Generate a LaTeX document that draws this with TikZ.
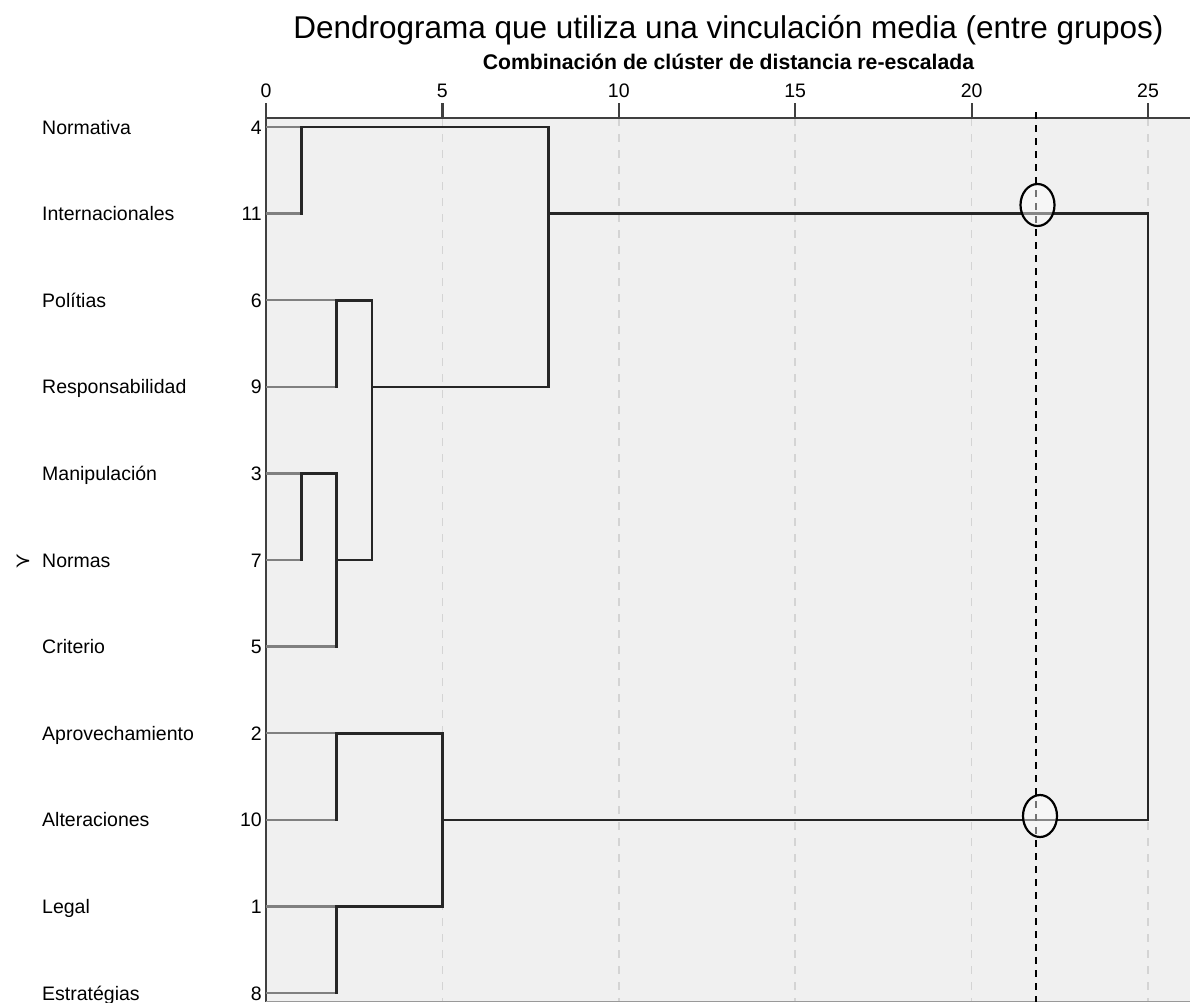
\documentclass[tikz,border=0pt]{standalone}
\usepackage{fontspec}
\setmainfont{Liberation Sans}
\newfontfamily\symbfont{DejaVu Sans}
\usetikzlibrary{positioning,shapes.geometric}

\tikzset{
  rowlab/.style={anchor=base west, inner sep=0pt, font=\fontsize{19.5}{22}\selectfont},
  rownum/.style={anchor=base east, inner sep=0pt, font=\fontsize{19.5}{22}\selectfont},
  ticklab/.style={anchor=base, inner sep=0pt, font=\fontsize{19.5}{22}\selectfont},
  leafline/.style={draw=black!50, line width=2.5pt},
  joinline/.style={draw=black!85, line width=2.6pt, line cap=rect},
  axisline/.style={draw=black!75, line width=2.2pt},
  gridline/.style={draw=black!17, line width=1.6pt, dash pattern=on 8pt off 8pt},
  cutline/.style={draw=black, line width=2.2pt, dash pattern=on 7pt off 6pt},
  ring/.style={draw=black, line width=2.2pt, fill=white, fill opacity=0.45, ellipse,
    minimum width=34pt, minimum height=42pt, inner sep=0pt}
}

\begin{document}
\begin{tikzpicture}[x=1pt, y=-1pt]
  \useasboundingbox (0,0) rectangle (1190,1002);
  \fill[black!6] (266,118) rectangle (1190,1002);

  % grid and axis
  \foreach \v in {5,10,...,25}
    \draw[gridline] ({266+35.28*\v},118) -- ({266+35.28*\v},1002);
  \draw[axisline] (266,118) -- (1190,118);
  \draw[axisline] (266,103) -- (266,1002);
  \draw[draw=black!40, line width=1pt] (266,1001.5) -- (1190,1001.5);
  \foreach \v in {0,5,...,25} {
    \draw[axisline] ({266+35.28*\v},103) -- ({266+35.28*\v},118);
    \node[ticklab] (t\v) at ({266+35.28*\v},97) {\v};
  }

  \node[anchor=base, inner sep=0pt, font=\fontsize{31.5}{35}\selectfont] (title) at (728.5,38)
    {Dendrograma que utiliza una vinculación media (entre grupos)};
  \node[anchor=base, inner sep=0pt, font=\bfseries\fontsize{21.2}{25}\selectfont] (subtitle) at (728.5,69)
    {Combinación de clúster de distancia re-escalada};

  % leaves
  \foreach \n/\lab/\y in {4/Normativa/127, 11/Internacionales/213.6, 6/Polítias/300.2,
      9/Responsabilidad/386.8, 3/Manipulación/473.4, 7/Normas/560, 5/Criterio/646.6,
      2/Aprovechamiento/733.2, 10/Alteraciones/819.8, 1/Legal/906.4, 8/Estratégias/993} {
    \node[rowlab] (lab\n) at (42,\y+7) {\lab};
    \node[rownum] (num\n) at (262,\y+7) {\n};
    \coordinate (l\n) at (266,\y);
  }
  \node[inner sep=0pt, font=\symbfont\fontsize{20}{20}\selectfont] (ymark) at (23,561) {≻};

  % merges
  \coordinate (c411) at (301.3,127);
  \coordinate (c69) at (336.6,300.2);
  \coordinate (c37) at (301.3,473.4);
  \coordinate (c375) at (336.6,560);
  \coordinate (c69375) at (371.8,386.8);
  \coordinate (cA) at (548.2,213.6);
  \coordinate (c210) at (336.6,733.2);
  \coordinate (c18) at (336.6,906.4);
  \coordinate (cB) at (442.4,819.8);
  \coordinate (root) at (1148,213.6);

  \foreach \a/\m in {l4/c411, l11/c411, l6/c69, l9/c69, l3/c37, l7/c37, l5/c375,
      l2/c210, l10/c210, l1/c18, l8/c18}
    \draw[leafline] (\a) -- (\a -| \m);
  \foreach \a/\m in {c411/cA, c69/c69375, c37/c375, c375/c69375, c69375/cA, cA/root,
      c210/cB, c18/cB, cB/root}
    \draw[joinline] (\a) -- (\a -| \m);
  \foreach \a/\b/\m in {l4/l11/c411, l6/l9/c69, l3/l7/c37, c37/l5/c375, c69/c375/c69375,
      c411/c69375/cA, l2/l10/c210, l1/l8/c18, c210/c18/cB, cA/cB/root}
    \draw[joinline] (\a -| \m) -- (\b -| \m);

  % cut
  \coordinate (cuttop) at (1036,112);
  \coordinate (cutbot) at (1036,1002);
  \draw[cutline] (cuttop) -- (cutbot);
  \node[ring] (ring1) at (1037.5,205) {};
  \node[ring] (ring2) at (1040,816) {};
\end{tikzpicture}
\end{document}
